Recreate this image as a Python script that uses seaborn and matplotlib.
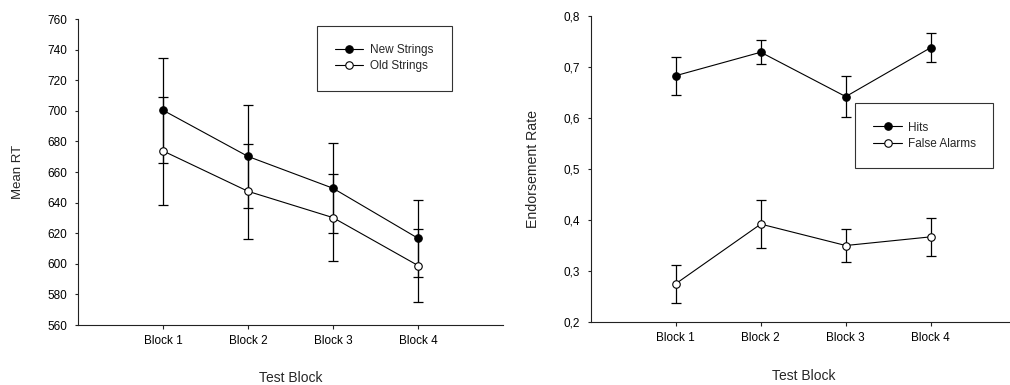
import numpy as np
import pandas as pd
import matplotlib
matplotlib.use("Agg")
import matplotlib.pyplot as plt
import seaborn as sns
from matplotlib.ticker import FuncFormatter

blocks = ["Block 1", "Block 2", "Block 3", "Block 4"]

# Left panel: mean RT
rt_new = [700.4, 670.2, 649.4, 616.7]
rt_new_err = [34.4, 33.7, 29.4, 25.0]
rt_old = [673.8, 647.4, 630.2, 598.9]
rt_old_err = [35.4, 31.0, 28.4, 23.7]

# Right panel: endorsement rate
hits = [0.683, 0.729, 0.642, 0.738]
hits_err = [0.037, 0.023, 0.040, 0.029]
false_alarms = [0.275, 0.392, 0.350, 0.367]
false_alarms_err = [0.037, 0.047, 0.033, 0.037]

sns.set_style("ticks")
plt.rcParams["font.family"] = ["Liberation Sans", "DejaVu Sans"]
plt.rcParams.update({
    "axes.linewidth": 0.8,
    "axes.edgecolor": "#222222",
    "xtick.major.width": 0.8,
    "ytick.major.width": 0.8,
    "xtick.color": "#222222",
    "ytick.color": "#222222",
    "xtick.labelcolor": "black",
    "ytick.labelcolor": "black",
})

fig = plt.figure(figsize=(10.1, 3.85), dpi=100)
ax1 = fig.add_axes([0.0772, 0.1558, 0.4208, 0.7948])
ax2 = fig.add_axes([0.5849, 0.1636, 0.4208, 0.7948])


def draw_series(ax, vals, errs, label, face):
    sns.lineplot(x=blocks, y=vals, ax=ax, color="black", lw=0.8,
                 marker="o", markersize=5.4, markerfacecolor=face,
                 markeredgecolor="black", markeredgewidth=0.8,
                 label=label, zorder=3, sort=False)
    ax.errorbar(blocks, vals, yerr=errs, fmt="none", ecolor="black",
                elinewidth=0.9, capsize=3.3, capthick=0.9, zorder=2)


draw_series(ax1, rt_new, rt_new_err, "New Strings", "black")
draw_series(ax1, rt_old, rt_old_err, "Old Strings", "white")
draw_series(ax2, hits, hits_err, "Hits", "black")
draw_series(ax2, false_alarms, false_alarms_err, "False Alarms", "white")

ax1.set_ylim(560, 760)
ax1.set_yticks(np.arange(560, 761, 20))
ax1.set_ylabel("Mean RT", fontsize=9.5)
ax1.yaxis.set_label_coords(-0.127, 0.5)

ax2.set_ylim(0.2, 0.8)
ax2.set_yticks(np.arange(0.2, 0.81, 0.1))
ax2.yaxis.set_major_formatter(FuncFormatter(lambda v, p: f"{v:.1f}".replace(".", ",")))
ax2.set_ylabel("Endorsement Rate", fontsize=10.2)
ax2.yaxis.set_label_coords(-0.119, 0.5)

for ax, ly in ((ax1, -0.150), (ax2, -0.154)):
    ax.set_xlim(-1, 4)
    ax.set_xlabel("Test Block", fontsize=10)
    ax.xaxis.set_label_coords(0.5, ly)
    ax.tick_params(axis="x", labelsize=8.5, length=3, pad=4)
    ax.tick_params(axis="y", labelsize=8.5, length=2.5, pad=5)
    sns.despine(ax=ax)

leg_kw = dict(loc="upper left", mode="expand", fontsize=8.5, frameon=True,
              fancybox=False, edgecolor="black", borderpad=1.55,
              labelspacing=0.36, handlelength=2.4, handletextpad=0.57,
              borderaxespad=0)
leg1 = ax1.legend(bbox_to_anchor=(0.5616, 0.765, 0.319, 0.213), **leg_kw)
leg2 = ax2.legend(bbox_to_anchor=(0.622, 0.502, 0.324, 0.213), **leg_kw)
for leg in (leg1, leg2):
    leg.get_frame().set_linewidth(0.8)

fig.savefig("out.png", dpi=100)
